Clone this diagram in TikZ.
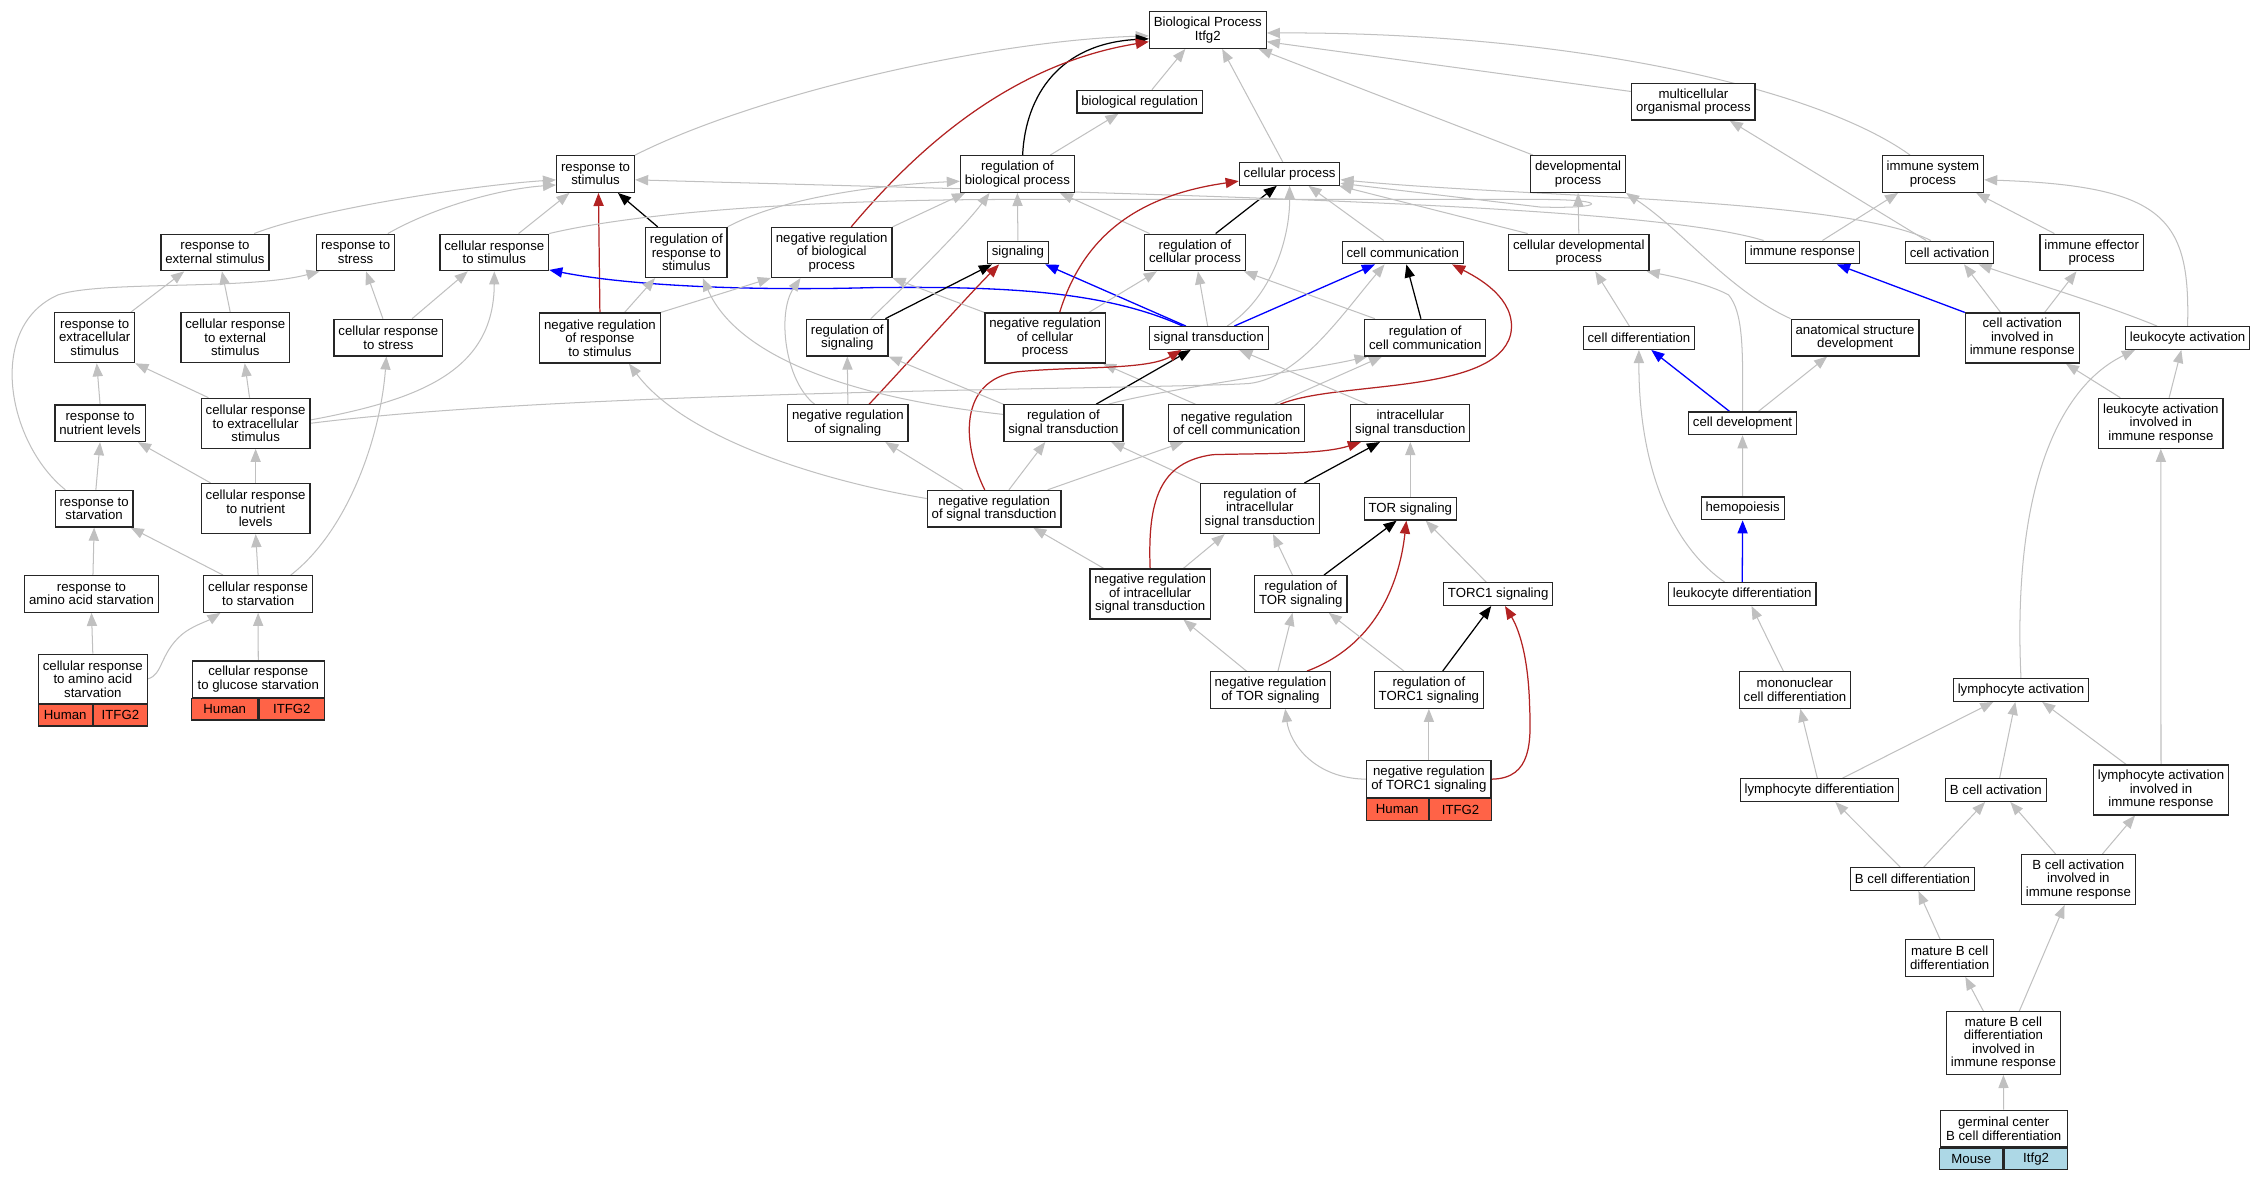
\documentclass[tikz,border=0pt]{standalone}
\usepackage{fontspec}
\setmainfont{Liberation Sans}
\usetikzlibrary{arrows.meta}
\pgfdeclarelayer{background}
\pgfsetlayers{background,main}
\definecolor{egray}{HTML}{C0C0C0}
\definecolor{ered}{HTML}{B22222}
\definecolor{eblue}{HTML}{0000FF}
\definecolor{tomatoc}{HTML}{FF6347}
\definecolor{lblue}{HTML}{ADD8E6}
\newcommand\gofont{\fontsize{9.1pt}{9.3pt}\selectfont}
\tikzset{
  gobox/.style={draw=black!85, line width=0.85pt, fill=white, inner xsep=3pt, inner ysep=0pt, align=center, font=\gofont},
  l1/.style={gobox, minimum height=15.6pt},
  l2/.style={gobox, minimum height=25.2pt},
  l3/.style={gobox, minimum height=34.4pt},
  l4/.style={gobox, minimum height=43.2pt},
  sph/.style={draw=black!85, line width=0.85pt, fill=tomatoc, inner sep=0pt, minimum height=14.8pt, font=\gofont},
  spm/.style={draw=black!85, line width=0.85pt, fill=lblue, inner sep=0pt, minimum height=14.8pt, font=\gofont},
  tipx/.style={-{Triangle[length=9pt,width=7pt]}},
  isa/.style={egray, line width=0.7pt, tipx},
  regl/.style={black, line width=0.85pt, tipx},
  negr/.style={ered, line width=0.85pt, tipx},
  partof/.style={eblue, line width=0.9pt, tipx}
}
\begin{document}
\begin{tikzpicture}[x=1pt,y=-1pt]
\useasboundingbox (0,0) rectangle (1560,811.65);
% nodes
\node[l2] (bp) at (831.5,20.7) {Biological Process\\Itfg2};
\node[l1] (bioreg) at (784.6,70) {biological regulation};
\node[l2] (multi) at (1165.8,70) {multicellular\\organismal process};
\node[l2] (respstim) at (410,119.8) {response to\\stimulus};
\node[l2] (regbio) at (700.4,119.8) {regulation of\\biological process};
\node[l1] (cellproc) at (887.8,119.7) {cellular process};
\node[l2] (devproc) at (1086.4,119.8) {developmental\\process};
\node[l2] (immsys) at (1330.7,119.8) {immune system\\process};
\node[l2] (respext) at (148,173.8) {response to\\external stimulus};
\node[l2] (respstress) at (244.8,173.8) {response to\\stress};
\node[l2] (cellrespstim) at (340.3,173.8) {cellular response\\to stimulus};
\node[l3] (regrespstim) at (472.5,173.8) {regulation of\\response to\\stimulus};
\node[l3] (negregbio) at (572.6,173.8) {negative regulation\\of biological\\process};
\node[l1] (signaling) at (700.8,173.8) {signaling};
\node[l2] (regcellproc) at (822.7,173.8) {regulation of\\cellular process};
\node[l1] (cellcomm) at (965.7,173.8) {cell communication};
\node[l2] (celldevproc) at (1086.9,173.8) {cellular developmental\\process};
\node[l1] (immresp) at (1240.8,173.8) {immune response};
\node[l1] (cellact) at (1342.1,173.8) {cell activation};
\node[l2] (immeff) at (1440,173.8) {immune effector\\process};
\node[l3] (respextra) at (65.2,232.5) {response to\\extracellular\\stimulus};
\node[l3] (cellrespext) at (162,232.5) {cellular response\\to external\\stimulus};
\node[l2] (cellrespstress) at (267.4,232.4) {cellular response\\to stress};
\node[l3] (negregrespstim) at (413,232.7) {negative regulation\\of response\\to stimulus};
\node[l2] (regsig) at (583.3,232.4) {regulation of\\signaling};
\node[l3] (negregcellproc) at (719.5,232.7) {negative regulation\\of cellular\\process};
\node[l1] (sigtrans) at (832.2,232.7) {signal transduction};
\node[l2] (regcellcomm) at (981.2,232.4) {regulation of\\cell communication};
\node[l1] (celldiff) at (1128.3,232.7) {cell differentiation};
\node[l2] (anat) at (1277.1,232.4) {anatomical structure\\development};
\node[l3] (cellactimm) at (1392.2,232.7) {cell activation\\involved in\\immune response};
\node[l1] (leukact) at (1506,232.7) {leukocyte activation};
\node[l2] (respnutr) at (68.9,291.4) {response to\\nutrient levels};
\node[l3] (cellrespextra) at (176,291.4) {cellular response\\to extracellular\\stimulus};
\node[l2] (negregsig) at (583.7,291.3) {negative regulation\\of signaling};
\node[l2] (regsigtrans) at (732.1,291.3) {regulation of\\signal transduction};
\node[l2] (negregcellcomm) at (851.4,291.3) {negative regulation\\of cell communication};
\node[l2] (intrasig) at (970.9,291.3) {intracellular\\signal transduction};
\node[l1] (celldev) at (1199.6,291.4) {cell development};
\node[l3] (leukactimm) at (1487.6,291.4) {leukocyte activation\\involved in\\immune response};
\node[l2] (respstarv) at (64.8,350.2) {response to\\starvation};
\node[l3] (cellrespnutr) at (176,350.1) {cellular response\\to nutrient\\levels};
\node[l2] (negregsigtrans) at (684.4,350.2) {negative regulation\\of signal transduction};
\node[l3] (regintrasig) at (867.3,350.1) {regulation of\\intracellular\\signal transduction};
\node[l1] (tor) at (970.9,350.2) {TOR signaling};
\node[l1] (hemo) at (1199.7,350) {hemopoiesis};
\node[l2] (respaa) at (63,408.9) {response to\\amino acid starvation};
\node[l2] (cellrespstarv) at (177.7,408.9) {cellular response\\to starvation};
\node[l3] (negregintrasig) at (791.8,408.9) {negative regulation\\of intracellular\\signal transduction};
\node[l2] (regtor) at (895.5,408.9) {regulation of\\TOR signaling};
\node[l1] (torc1) at (1031.4,409) {TORC1 signaling};
\node[l1] (leukdiff) at (1199.4,409) {leukocyte differentiation};
\node[l3, minimum width=74.4pt, minimum height=33.8pt] (cellrespaa) at (63.9,467.3) {cellular response\\to amino acid\\starvation};
\node[sph, minimum width=37.2pt, anchor=north east] (cellrespaaH) at (cellrespaa.south) {Human};
\node[sph, minimum width=37.2pt, anchor=north west] (cellrespaaG) at (cellrespaa.south) {ITFG2};
\node[l2, minimum width=90.7pt, minimum height=25pt] (cellrespglu) at (177.8,467.5) {cellular response\\to glucose starvation};
\node[sph, minimum width=45.35pt, anchor=north east] (cellrespgluH) at (cellrespglu.south) {Human};
\node[sph, minimum width=45.35pt, anchor=north west] (cellrespgluG) at (cellrespglu.south) {ITFG2};
\node[l2] (negregtor) at (874.6,475) {negative regulation\\of TOR signaling};
\node[l2] (regtorc1) at (983.7,475) {regulation of\\TORC1 signaling};
\node[l2] (mono) at (1235.7,475) {mononuclear\\cell differentiation};
\node[l1] (lymact) at (1391.3,475) {lymphocyte activation};
\node[l2, minimum width=85.6pt] (negregtorc1) at (983.7,536.4) {negative regulation\\of TORC1 signaling};
\node[sph, minimum width=42.8pt, anchor=north east] (negregtorc1H) at (negregtorc1.south) {Human};
\node[sph, minimum width=42.8pt, anchor=north west] (negregtorc1G) at (negregtorc1.south) {ITFG2};
\node[l1] (lymdiff) at (1252.6,543.9) {lymphocyte differentiation};
\node[l1] (bcellact) at (1374,543.9) {B cell activation};
\node[l3] (lymactimm) at (1487.7,543.8) {lymphocyte activation\\involved in\\immune response};
\node[l1] (bcelldiff) at (1316.6,605.2) {B cell differentiation};
\node[l3] (bcellactimm) at (1430.8,605.5) {B cell activation\\involved in\\immune response};
\node[l2] (matureb) at (1342.2,659.5) {mature B cell\\differentiation};
\node[l4] (maturebimm) at (1379.2,718) {mature B cell\\differentiation\\involved in\\immune response};
\node[l2, minimum width=87.5pt] (germinal) at (1379.4,777) {germinal center\\B cell differentiation};
\node[spm, minimum width=43.75pt, anchor=north east] (germinalM) at (germinal.south) {Mouse};
\node[spm, minimum width=43.75pt, anchor=north west] (germinalG) at (germinal.south) {Itfg2};
% edges
\begin{pgfonlayer}{background}
\fill[white] (0,0) rectangle (1560,811.65);
% top
\draw[isa] ([xshift=8.4pt]bioreg.north) -- ([xshift=-15.5pt]bp.south);
\draw[isa] ([xshift=-4.7pt]cellproc.north) -- ([xshift=9.9pt]bp.south);
\draw[isa] ([yshift=7pt]multi.west) -- ([yshift=-8pt]bp.east);
\draw[isa] ([xshift=-31pt]devproc.north) -- ([xshift=35pt]bp.south);
\draw[isa] ([xshift=-15.7pt]immsys.north) .. controls (1250,60) and (1080,22) .. ([yshift=-2pt]bp.east);
\draw[isa] (respstim.north east) .. controls (520,65) and (680,28) .. ([yshift=-4pt]bp.west);
\draw[isa] ([xshift=22.6pt]regbio.north) -- ([xshift=-14.6pt]bioreg.south);
\draw[regl] ([xshift=3.6pt]regbio.north) .. controls (706,65) and (730,30) .. ([yshift=-6pt]bp.west);
\draw[negr] ([xshift=13.4pt]negregbio.north) .. controls (625,110) and (690,45) .. ([yshift=-8pt]bp.west);
% row 2 to row 1
\draw[isa] ([xshift=27pt]respext.north) .. controls (215,145) and (320,128) .. ([yshift=-4pt]respstim.west);
\draw[isa] ([xshift=22.2pt]respstress.north) .. controls (300,142) and (345,130) .. ([yshift=-7.5pt]respstim.west);
\draw[isa] ([xshift=16.7pt]cellrespstim.north) -- ([xshift=-18pt]respstim.south);
\draw[negr] (negregrespstim.north) -- ([xshift=2pt]respstim.south);
\draw[regl] ([xshift=-19.7pt]regrespstim.north) -- ([xshift=15.4pt]respstim.south);
\draw[isa] (regrespstim.north east) .. controls (540,135) and (610,127) .. ([yshift=-5pt]regbio.west);
\draw[isa] (negregbio.north east) -- ([xshift=-36pt]regbio.south);
\draw[isa] (signaling.north) -- (regbio.south);
\draw[isa] ([xshift=-31.3pt]regcellproc.north) -- ([xshift=29.3pt]regbio.south);
\draw[regl] ([xshift=14.2pt]regcellproc.north) -- ([xshift=-8.8pt]cellproc.south);
\draw[isa] ([xshift=-13.1pt]cellcomm.north) -- ([xshift=13pt]cellproc.south);
\draw[isa] (celldevproc.north) -- (devproc.south);
\draw[isa] ([xshift=-35.2pt]celldevproc.north) -- ([xshift=-1pt]cellproc.south east);
\draw[isa] ([xshift=-12.8pt]cellact.north) .. controls (1270,136) and (1050,136) .. ([yshift=-4pt]cellproc.east);
\draw[isa] ([xshift=-26.6pt]immresp.north) .. controls (1130,140) and (800,134) .. ([yshift=-4pt]respstim.east);
\draw[isa] (cellrespstim.north east) .. controls (440,146) and (560,137.3) .. (700,137.3) -- (1060,137.3) .. controls (1110,137.3) and (1105,144) .. (1060,142.5) -- ([yshift=-6.5pt]cellproc.east);
\draw[isa] ([xshift=13.8pt]immresp.north) -- ([xshift=-24pt]immsys.south);
\draw[isa] ([xshift=-25.7pt]immeff.north) -- ([xshift=29.8pt]immsys.south);
\draw[isa] (leukact.north) .. controls (1508,150) and (1490,128) .. ([yshift=-4pt]immsys.east);
\draw[isa] ([xshift=-16pt]cellact.north) -- ([xshift=25pt]multi.south);
% signalling block
\draw[isa] ([xshift=-0.8pt]sigtrans.north) -- ([xshift=2pt]regcellproc.south);
\draw[isa] ([xshift=12.6pt]sigtrans.north) .. controls (875,205) and (888,165) .. (cellproc.south);
\draw[partof] ([xshift=-15.8pt]sigtrans.north) -- ([xshift=18.8pt]signaling.south);
\draw[partof] ([xshift=17.5pt]sigtrans.north) -- ([xshift=-19.2pt]cellcomm.south);
\draw[partof] ([xshift=-18pt]sigtrans.north) .. controls (760,200) and (690,197) .. (600,198) .. controls (530,200) and (440,198) .. ([yshift=1pt]cellrespstim.south east);
\draw[regl] ([xshift=26.2pt]regsig.north) -- ([xshift=-17.9pt]signaling.south);
\draw[negr] ([xshift=14.6pt]negregsig.north) .. controls (625,250) and (665,205) .. ([xshift=-13pt]signaling.south);
\draw[isa] ([xshift=16.2pt]regsig.north) .. controls (625,195) and (665,155) .. ([xshift=-19.2pt]regbio.south);
\draw[negr] ([xshift=10pt]negregcellproc.north) .. controls (745,165) and (780,135) .. ([yshift=-5pt]cellproc.west);
\draw[isa] ([xshift=30.1pt]negregcellproc.north) -- ([xshift=-26.3pt]regcellproc.south);
\draw[isa] (negregcellproc.north west) -- (negregbio.south east);
\draw[regl] ([xshift=-3pt]regcellcomm.north) -- ([xshift=2.5pt]cellcomm.south);
\draw[isa] ([xshift=-34.7pt]regcellcomm.north) -- ([xshift=33.7pt]regcellproc.south);
\draw[negr] ([xshift=30pt]negregcellcomm.north) .. controls (920,262) and (1030,272) .. (1040,230) .. controls (1045,205) and (1015,190) .. ([xshift=34pt]cellcomm.south);
\draw[isa] ([xshift=26pt]negregcellcomm.north) -- ([xshift=-29.7pt]regcellcomm.south);
\draw[isa] ([xshift=-28.4pt]negregcellcomm.north) -- ([xshift=-2pt]negregcellproc.south east);
\draw[regl] ([xshift=22.5pt]regsigtrans.north) -- ([xshift=-12.5pt]sigtrans.south);
\draw[negr] ([xshift=-6.5pt]negregsigtrans.north) .. controls (662,305) and (660,262) .. (700,256) .. controls (740,252) and (790,255) .. ([xshift=-19pt]sigtrans.south);
\draw[isa] ([xshift=-29.4pt]intrasig.north) -- ([xshift=21pt]sigtrans.south);
\draw[isa] (regsigtrans.north west) -- (regsig.south east);
\draw[isa] ([yshift=6pt]regsigtrans.west) .. controls (570,272) and (505,240) .. ([xshift=11.3pt]regrespstim.south);
\draw[isa] ([xshift=31pt]regsigtrans.north) .. controls (800,268) and (900,255) .. ([xshift=-39.7pt]regcellcomm.south);
\draw[isa] (negregsig.north) -- (regsig.south);
\draw[isa] ([xshift=-22.9pt]negregsig.north) .. controls (540,262) and (535,215) .. ([xshift=-21.5pt]negregbio.south);
\draw[isa] ([xshift=-21.5pt]negregsigtrans.north) -- ([xshift=25.8pt]negregsig.south);
\draw[isa] ([xshift=10.2pt]negregsigtrans.north) -- ([xshift=-12.5pt]regsigtrans.south);
\draw[isa] ([xshift=36.9pt]negregsigtrans.north) -- ([xshift=-36.7pt]negregcellcomm.south);
\draw[isa] ([yshift=7pt]negregsigtrans.west) .. controls (560,330) and (470,300) .. ([xshift=20pt]negregrespstim.south);
\draw[isa] ([xshift=17pt]negregrespstim.north) -- ([xshift=-21.5pt]regrespstim.south);
\draw[isa] (negregrespstim.north east) -- (negregbio.south west);
\draw[regl] ([xshift=30.7pt]regintrasig.north) -- ([xshift=-20.9pt]intrasig.south);
\draw[isa] (regintrasig.north west) -- ([xshift=32.9pt]regsigtrans.south);
\draw[negr] (negregintrasig.north) .. controls (790,345) and (798,318) .. (835,313) .. controls (870,312) and (910,313) .. ([xshift=-34pt]intrasig.south);
\draw[isa] ([xshift=22.9pt]negregintrasig.north) -- ([xshift=-24.2pt]regintrasig.south);
\draw[isa] ([xshift=-32pt]negregintrasig.north) -- ([xshift=26.9pt]negregsigtrans.south);
\draw[isa] (tor.north) -- (intrasig.south);
\draw[regl] ([xshift=16pt]regtor.north) -- ([xshift=-9.4pt]tor.south);
\draw[isa] ([xshift=-5.7pt]regtor.north) -- ([xshift=9.1pt]regintrasig.south);
\draw[isa] ([xshift=-8.2pt]torc1.north) -- ([xshift=10.6pt]tor.south);
\draw[negr] ([xshift=25.2pt]negregtor.north) .. controls (945,445) and (963,405) .. ([xshift=-2.7pt]tor.south);
\draw[isa] ([xshift=5.2pt]negregtor.north) -- ([xshift=-5.7pt]regtor.south);
\draw[isa] ([xshift=-16.5pt]negregtor.north) -- ([xshift=22.9pt]negregintrasig.south);
\draw[isa] ([xshift=-17.2pt]regtorc1.north) -- ([xshift=19.3pt]regtor.south);
\draw[regl] ([xshift=9.5pt]regtorc1.north) -- ([xshift=-4.8pt]torc1.south);
\draw[isa] (negregtorc1.west) .. controls (905,536) and (888,512) .. ([xshift=10.2pt]negregtor.south);
\draw[isa] (negregtorc1.north) -- (regtorc1.south);
\draw[negr] (negregtorc1.east) .. controls (1055,536) and (1054,510) .. (1053,485) .. controls (1052,450) and (1045,432) .. ([xshift=4.7pt]torc1.south);
% right block
\draw[isa] ([xshift=-6.6pt]celldiff.north) -- ([xshift=11.3pt]celldevproc.south);
\draw[isa] (anat.north west) .. controls (1190,200) and (1160,160) .. (devproc.south east);
\draw[isa] (celldev.north) .. controls (1200,240) and (1200,215) .. (1190,203) .. controls (1175,195) and (1150,190) .. ([xshift=-2pt]celldevproc.south east);
\draw[partof] ([xshift=-9pt]celldev.north) -- ([xshift=8.5pt]celldiff.south);
\draw[isa] ([xshift=11pt]celldev.north) -- ([xshift=-19.2pt]anat.south);
\draw[isa] (hemo.north) -- (celldev.south);
\draw[partof] (leukdiff.north) -- (hemo.south);
\draw[isa] ([xshift=-12pt]leukdiff.north) .. controls (1150,375) and (1128,320) .. (celldiff.south);
\draw[isa] ([xshift=-8pt]mono.north) -- ([xshift=6.4pt]leukdiff.south);
\draw[isa] ([xshift=-1.5pt]lymdiff.north) -- ([xshift=3.7pt]mono.south);
\draw[isa] ([xshift=15.9pt]lymdiff.north) -- ([xshift=-19pt]lymact.south);
\draw[isa] ([xshift=2.6pt]bcellact.north) -- ([xshift=-3.9pt]lymact.south);
\draw[isa] ([xshift=-24.1pt]lymactimm.north) -- ([xshift=14.6pt]lymact.south);
\draw[isa] (lymactimm.north) -- (leukactimm.south);
\draw[isa] (lymact.north) .. controls (1385,330) and (1420,265) .. ([xshift=-36.2pt]leukact.south);
\draw[isa] ([xshift=5.7pt]leukactimm.north) -- ([xshift=-4.3pt]leukact.south);
\draw[isa] ([xshift=-27.9pt]leukactimm.north) -- ([xshift=30pt]cellactimm.south);
\draw[partof] (cellactimm.north west) -- ([xshift=23.8pt]immresp.south);
\draw[isa] ([xshift=-14.9pt]cellactimm.north) -- ([xshift=10pt]cellact.south);
\draw[isa] ([xshift=15.4pt]cellactimm.north) -- ([xshift=-10.5pt]immeff.south);
\draw[isa] ([xshift=-21pt]leukact.north) .. controls (1450,210) and (1400,195) .. ([xshift=20pt]cellact.south);
\draw[isa] ([xshift=-8.4pt]bcelldiff.north) -- ([xshift=10.9pt]lymdiff.south);
\draw[isa] ([xshift=7.8pt]bcelldiff.north) -- ([xshift=-7.4pt]bcellact.south);
\draw[isa] ([xshift=-15.7pt]bcellactimm.north) -- ([xshift=10pt]bcellact.south);
\draw[isa] ([xshift=16.6pt]bcellactimm.north) -- ([xshift=-17.9pt]lymactimm.south);
\draw[isa] ([xshift=-6.6pt]matureb.north) -- ([xshift=4.1pt]bcelldiff.south);
\draw[isa] ([xshift=-13.8pt]maturebimm.north) -- ([xshift=10.8pt]matureb.south);
\draw[isa] ([xshift=11pt]maturebimm.north) -- ([xshift=-9.5pt]bcellactimm.south);
\draw[isa] (germinal.north) -- (maturebimm.south);
% left block
\draw[isa] ([xshift=24.9pt]respextra.north) -- ([xshift=-21.2pt]respext.south);
\draw[isa] ([xshift=-3.5pt]cellrespext.north) -- ([xshift=4.8pt]respext.south);
\draw[isa] (respnutr.north) -- ([xshift=1.4pt]respextra.south);
\draw[isa] ([xshift=-32.5pt]cellrespextra.north) -- (respextra.south east);
\draw[isa] ([xshift=-4.2pt]cellrespextra.north) -- ([xshift=6.5pt]cellrespext.south);
\draw[isa] ([yshift=2.3pt]cellrespextra.east) .. controls (290,275) and (340,255) .. (cellrespstim.south);
\draw[isa] (cellrespextra.east) .. controls (400,268) and (800,268) .. (860,264) .. controls (895,260) and (925,215) .. ([xshift=-12.5pt]cellcomm.south);
\draw[isa] ([xshift=-3.8pt]cellrespstress.north) -- ([xshift=7.2pt]respstress.south);
\draw[isa] ([xshift=16.3pt]cellrespstress.north) -- ([xshift=-18.3pt]cellrespstim.south);
\draw[isa] ([xshift=-19.8pt]respstarv.north) .. controls (5,305) and (-10,225) .. (40,203) .. controls (70,193) and (170,200) .. ([xshift=-24.8pt]respstress.south);
\draw[isa] ([xshift=1.2pt]respstarv.north) -- (respnutr.south);
\draw[isa] ([xshift=-31pt]cellrespnutr.north) -- ([xshift=26.1pt]respnutr.south);
\draw[isa] (cellrespnutr.north) -- (cellrespextra.south);
\draw[isa] ([xshift=1pt]respaa.north) -- (respstarv.south);
\draw[isa] ([xshift=-24.2pt]cellrespstarv.north) -- ([xshift=25.2pt]respstarv.south);
\draw[isa] (cellrespstarv.north) -- (cellrespnutr.south);
\draw[isa] ([xshift=22.5pt]cellrespstarv.north) .. controls (240,365) and (262,300) .. ([xshift=-1.4pt]cellrespstress.south);
\draw[isa] (cellrespaa.north) -- (respaa.south);
\draw[isa] (cellrespaa.east) .. controls (112,465) and (110,450) .. (125,437) .. controls (132,431) and (142,428) .. ([xshift=-25.9pt]cellrespstarv.south);
\draw[isa] (cellrespglu.north) -- (cellrespstarv.south);
\end{pgfonlayer}
\end{tikzpicture}
\end{document}
